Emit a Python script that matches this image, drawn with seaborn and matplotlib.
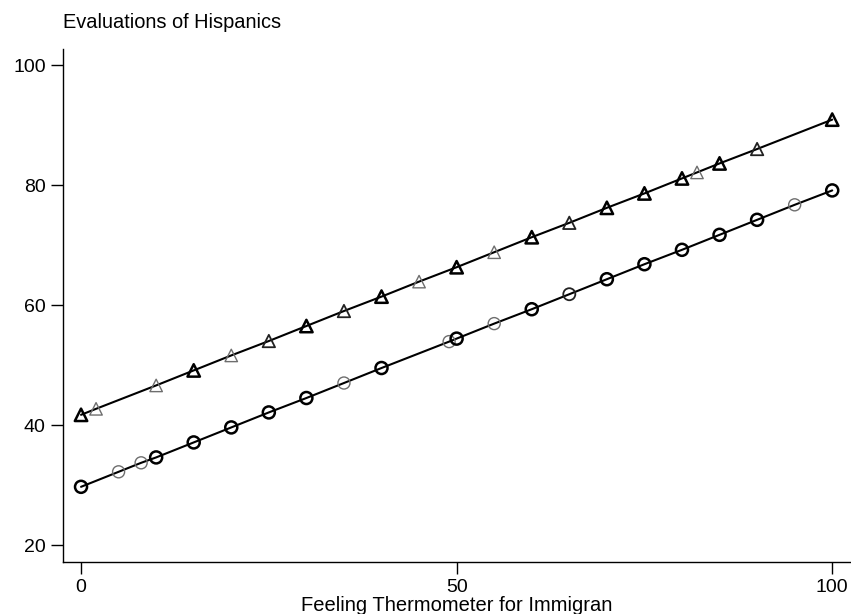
import matplotlib
matplotlib.use("Agg")
import matplotlib.pyplot as plt
import seaborn as sns
import pandas as pd

# Predicted evaluations of Hispanics by immigrant feeling thermometer
tri_x = [0, 2, 10, 15, 20, 25, 30, 35, 40, 45, 50, 55, 60, 65, 70, 75, 80, 82, 85, 90, 100]
tri_y = [41.7, 42.7, 46.6, 49.1, 51.6, 54.0, 56.5, 59.0, 61.4, 63.9, 66.3, 68.8,
         71.3, 73.7, 76.2, 78.6, 81.1, 82.1, 83.6, 86.0, 90.9]
# how many observations stack at each point (drawn darker when more)
tri_w = [3, 1, 1, 3, 1, 2, 3, 2, 3, 1, 3, 1, 3, 2, 3, 3, 3, 1, 3, 2, 3]

cir_x = [0, 5, 8, 10, 15, 20, 25, 30, 35, 40, 49, 50, 55, 60, 65, 70, 75, 80, 85, 90, 95, 100]
cir_y = [29.7, 32.2, 33.7, 34.6, 37.1, 39.6, 42.1, 44.5, 47.0, 49.5, 53.9, 54.4, 56.9,
         59.3, 61.8, 64.3, 66.8, 69.2, 71.7, 74.2, 76.7, 79.1]
cir_w = [3, 1, 1, 3, 3, 3, 3, 3, 1, 3, 1, 3, 1, 3, 2, 3, 3, 3, 3, 3, 1, 3]

x_ticks = [0, 50, 100]
y_ticks = [20, 40, 60, 80, 100]

sns.set_theme(style="white")
plt.rcParams["font.family"] = ["Liberation Sans", "DejaVu Sans"]

tri = pd.DataFrame({"x": tri_x, "y": tri_y, "w": tri_w})
cir = pd.DataFrame({"x": cir_x, "y": cir_y, "w": cir_w})

fig = plt.figure(figsize=(8.51, 6.14), dpi=100)
ax = fig.add_axes([63 / 851, 1 - 562 / 614, 1 - 63 / 851, (562 - 49) / 614])

sns.lineplot(data=tri, x="x", y="y", color="black", linewidth=1.5, ax=ax, zorder=2)
sns.lineplot(data=cir, x="x", y="y", color="black", linewidth=1.5, ax=ax, zorder=2)

edge = {1: ("#6e6e6e", 1.0), 2: ("#222222", 1.3), 3: ("black", 1.8)}
for df, mk, sz in [(tri, "^", 80), (cir, "o", 75)]:
    for w, (col, lw) in edge.items():
        sub = df[df["w"] == w]
        sns.scatterplot(data=sub, x="x", y="y", marker=mk, s=sz, facecolor="none",
                        edgecolor=col, linewidth=lw, ax=ax, zorder=3, legend=False)

ax.set_xlim(-2.4, 102.5)
ax.set_ylim(17.17, 102.67)
ax.set_xticks(x_ticks)
ax.set_yticks(y_ticks)
ax.set_xticklabels([str(v) for v in x_ticks])
ax.set_yticklabels([str(v) for v in y_ticks])

for s in ["top", "right"]:
    ax.spines[s].set_visible(False)
for s in ["left", "bottom"]:
    ax.spines[s].set_color("black")
    ax.spines[s].set_linewidth(1.0)

ax.tick_params(axis="both", which="major", direction="out", length=8.5, width=1.0,
               color="black", labelsize=14, labelcolor="black", pad=4,
               left=True, bottom=True)

ax.set_xlabel("Feeling Thermometer for Immigran", fontsize=14.5, color="black", labelpad=-0.5)
ax.set_ylabel("")
fig.text(63 / 851, 1 - 22 / 614, "Evaluations of Hispanics", fontsize=14.4,
         color="black", ha="left", va="center")

fig.savefig("out.png", dpi=100, facecolor="white")
